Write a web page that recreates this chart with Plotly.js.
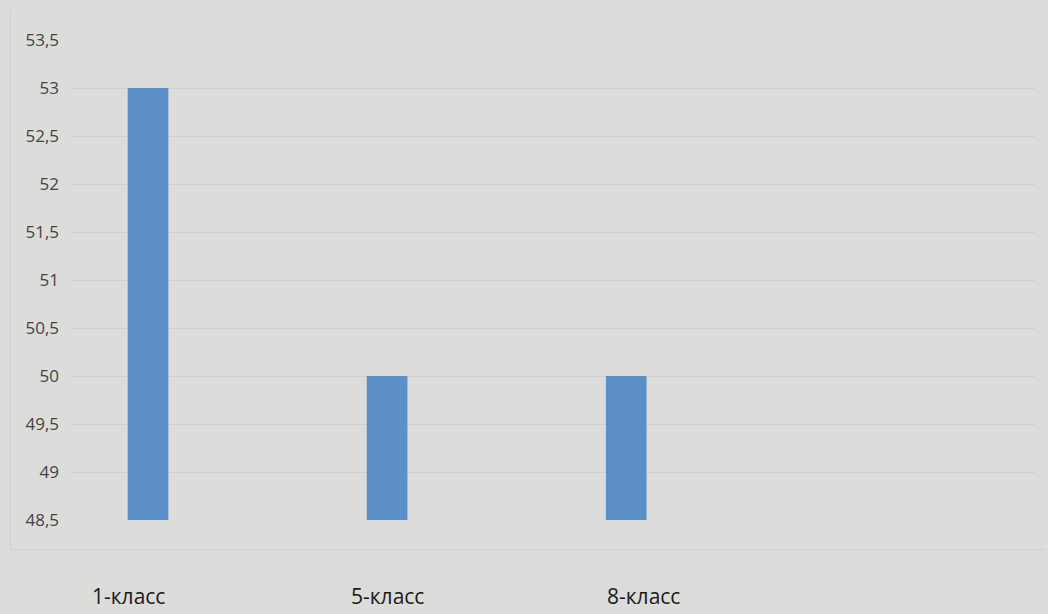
<!DOCTYPE html>
<html>
<head>
<meta charset="utf-8">
<script src="https://cdn.plot.ly/plotly-3.0.1.min.js"></script>
<style>
html,body{margin:0;padding:0;background:#dcdcda;}
#chart{width:1048px;height:614px;}
</style>
</head>
<body>
<div id="chart"></div>
<script>
var categories = ["1-класс", "5-класс", "8-класс"];
var values = [53, 50, 50];
var yTickVals = [48.5, 49, 49.5, 50, 50.5, 51, 51.5, 52, 52.5, 53, 53.5];
var yTickText = ["48,5", "49", "49,5", "50", "50,5", "51", "51,5", "52", "52,5", "53", "53,5"];
var labelShift = [-20, 0, 17];

var xIdx = categories.map(function(_, i){ return i; });

var trace = {
  type: "bar",
  x: xIdx,
  y: values.map(function(v){ return v - 48.5; }),
  base: 48.5,
  width: 0.17,
  marker: {color: "#5c8fc8"},
  hoverinfo: "skip"
};

var annotations = categories.map(function(c, i){
  return {
    x: i, y: 0, xref: "x", yref: "paper",
    yanchor: "top", yshift: -60, xshift: labelShift[i],
    text: c, showarrow: false,
    font: {family: "Open Sans, Liberation Sans, sans-serif", size: 21, color: "#1a1a1a"}
  };
});

var layout = {
  width: 1048, height: 614,
  paper_bgcolor: "#dcdcda",
  plot_bgcolor: "#dcdcda",
  margin: {l: 72, r: 13, t: 40, b: 94},
  showlegend: false,
  xaxis: {
    type: "linear",
    range: [-0.318, 3.71],
    showticklabels: false,
    showgrid: false, zeroline: false, showline: false, ticks: ""
  },
  yaxis: {
    range: [48.5, 53.5],
    tickvals: yTickVals,
    ticktext: yTickText,
    showgrid: true, gridcolor: "#cfcfcd", gridwidth: 1,
    zeroline: false, showline: false, ticks: "",
    ticklabelstandoff: 12,
    tickfont: {family: "Open Sans, Liberation Sans, sans-serif", size: 17, color: "#444444"}
  },
  shapes: [
    {type: "line", xref: "paper", yref: "paper", x0: -0.064, x1: -0.064, y0: -0.06, y1: 1.06,
     line: {color: "#d0d0ce", width: 1}},
    {type: "line", xref: "paper", yref: "paper", x0: -0.064, x1: 1.01, y0: -0.062, y1: -0.062,
     line: {color: "#cfcfcd", width: 1}}
  ],
  annotations: annotations
};

Plotly.newPlot("chart", [trace], layout, {displayModeBar: false, staticPlot: true});
</script>
</body>
</html>
